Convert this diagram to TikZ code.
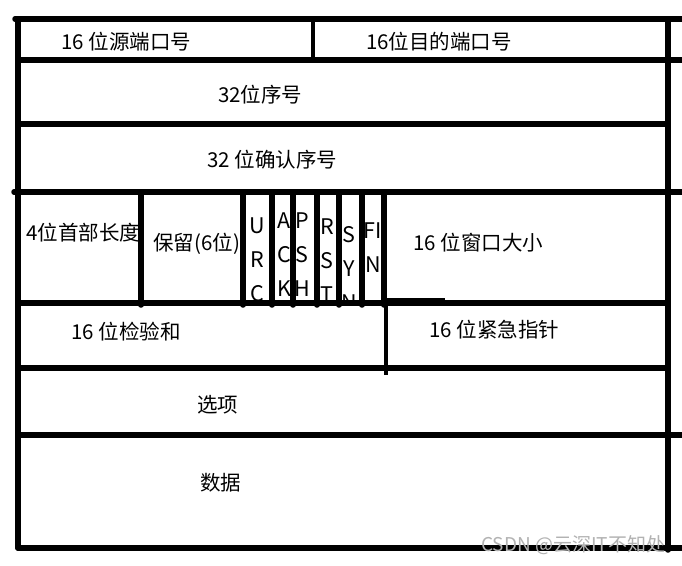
\documentclass[tikz,border=0pt]{standalone}
\usepackage{fontspec}
\newfontfamily\cjk{Noto Sans CJK SC}
\usetikzlibrary{positioning}

\begin{document}
\begin{tikzpicture}[
    x=1pt, y=-1pt,
    every node/.style={font=\cjk\fontsize{20.5}{24}\selectfont, inner sep=0pt},
    rule/.style={line width=5.5pt, line cap=round},
    thinrule/.style={line width=4pt},
    field/.style={anchor=west},
    flagbit/.style={anchor=center, font=\cjk\fontsize{21.5}{24}\selectfont},
    watermark/.style={anchor=west, text=gray!60, font=\cjk\fontsize{19}{22}\selectfont}
]
\useasboundingbox[fill=white] (0,0) rectangle (682,565);

% Outer frame
\draw[rule] (18,19) -- (18,548);
\draw[rule] (668,19) -- (668,550);

% Row lines
\draw[rule] (15,19) -- (682,19);
\draw[rule] (18,60) -- (682,60);
\draw[rule] (18,124) -- (668,124);
\draw[rule] (14,192) -- (682,192);
\draw[rule] (18,303) -- (668,303);
\draw[thinrule] (384,300) -- (445,300);
\draw[rule] (18,368) -- (668,368);
\draw[rule] (18,435) -- (682,435);
\draw[rule] (18,548) -- (682,548);

% Column dividers
\draw[thinrule] (313,19) -- (313,60);
\draw[rule] (141,192) -- (141,305);
\foreach \x in {243,272,293,317,339,362,384}
    \draw[rule] (\x,192) -- (\x,305);
\draw[thinrule] (386,303) -- (386,375);

% Fields
\node[field] (srcport) at (61,42) {16 位源端口号};
\node[field] (dstport) at (366,42) {16位目的端口号};
\node[field] (seqnum) at (218,95) {32位序号};
\node[field] (acknum) at (207,160) {32 位确认序号};
\node[field] (hdrlen) at (26,233) {4位首部长度};
\node[field] (reserved) at (153,244) {保留(6位)};
\node[field] (window) at (413,243) {16 位窗口大小};
\node[field] (checksum) at (71,332) {16 位检验和};
\node[field] (urgent) at (429,330) {16 位紧急指针};
\node[field] (options) at (197,405) {选项};
\node[field] (data) at (200,483) {数据};

% Flag bits
\begin{scope}
\clip (246,196) rectangle (382,300);
\foreach \x/\a/\b/\c/\y in {257/U/R/C/226, 284/A/C/K/221, 302/P/S/H/221,
                            327/R/S/T/227, 349/S/Y/N/235, 373/FI/N//231} {
    \node[flagbit] (flag\x a) at (\x,\y) {\a};
    \node[flagbit] (flag\x b) at (\x,\y+34) {\b};
    \node[flagbit] (flag\x c) at (\x,\y+68) {\c};
}
\end{scope}

% Watermark
\node[watermark] (wmark) at (481,545) {CSDN @云深IT不知处};

\end{tikzpicture}
\end{document}
